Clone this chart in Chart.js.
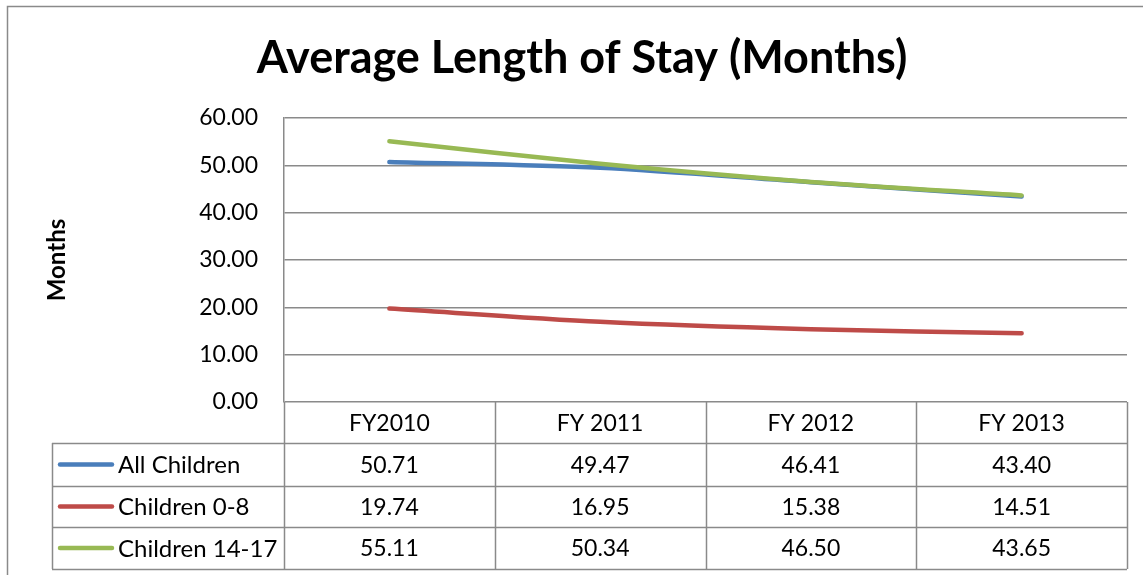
<!DOCTYPE html>
<html>
<head>
<meta charset="utf-8">
<script src="https://cdn.jsdelivr.net/npm/chart.js@4/dist/chart.umd.min.js"></script>
<style>
html,body{margin:0;padding:0;background:#fff;}
#wrap{width:1143px;height:575px;position:relative;}
</style>
</head>
<body>
<div id="wrap"><canvas id="c" width="1143" height="575"></canvas></div>
<script>
const categories = ["FY2010", "FY 2011", "FY 2012", "FY 2013"];
const allChildren = [50.71, 49.47, 46.41, 43.40];
const children0to8 = [19.74, 16.95, 15.38, 14.51];
const children14to17 = [55.11, 50.34, 46.50, 43.65];
const seriesNames = ["All Children", "Children 0-8", "Children 14-17"];
const yTickValues = [0, 10, 20, 30, 40, 50, 60];
const chartTitle = "Average Length of Stay (Months)";
const yAxisTitle = "Months";

const colors = ["#4A7EBB", "#BE4B48", "#98B954"];
const gridColor = "#8a8a8a";
const FONT = "Lato, 'Open Sans', sans-serif";

const tablePlugin = {
  id: 'tablePlugin',
  afterDraw(chart) {
    const ctx = chart.ctx;
    const area = chart.chartArea;
    const xs = chart.scales.x;
    const ds = chart.data.datasets;
    ctx.save();
    // outer frame
    ctx.strokeStyle = gridColor;
    ctx.lineWidth = 1.5;
    ctx.beginPath();
    ctx.moveTo(7.5, 575);
    ctx.lineTo(7.5, 6.5);
    ctx.lineTo(1143, 6.5);
    ctx.stroke();

    // title
    ctx.fillStyle = "#000";
    ctx.font = "bold 45px " + FONT;
    ctx.textAlign = "center";
    ctx.textBaseline = "middle";
    ctx.fillText(chartTitle, 582, 58);

    // y axis title
    ctx.save();
    ctx.translate(57, 260);
    ctx.rotate(-Math.PI / 2);
    ctx.font = "bold 24px " + FONT;
    ctx.fillText(yAxisTitle, 0, 0);
    ctx.restore();

    // table
    const catW = area.width / categories.length;
    const headerTop = area.bottom;
    const rowTops = [443, 486, 527];
    const tableBottom = 569;
    const legendLeft = 52;
    ctx.strokeStyle = gridColor;
    ctx.lineWidth = 1.5;
    ctx.beginPath();
    [443, 486, 527, tableBottom].forEach(y => {
      ctx.moveTo(legendLeft, y + 0.5);
      ctx.lineTo(area.right, y + 0.5);
    });
    ctx.moveTo(legendLeft + 0.5, 443);
    ctx.lineTo(legendLeft + 0.5, tableBottom);
    for (let i = 0; i <= categories.length; i++) {
      const x = Math.round(area.left + i * catW) + 0.5;
      ctx.moveTo(x, headerTop);
      ctx.lineTo(x, tableBottom);
    }
    ctx.stroke();

    ctx.font = "23px " + FONT;
    ctx.fillStyle = "#000";
    ctx.textAlign = "center";
    ctx.textBaseline = "middle";
    categories.forEach((c, i) => {
      ctx.fillText(c, xs.getPixelForValue(i), (headerTop + 443) / 2 + 1);
    });
    ds.forEach((d, r) => {
      const top = rowTops[r];
      const bottom = r < 2 ? rowTops[r + 1] : tableBottom;
      const cy = (top + bottom) / 2 + 1;
      ctx.font = "23px " + FONT;
      d.data.forEach((v, i) => {
        ctx.textAlign = "center";
        ctx.fillText(v.toFixed(2), xs.getPixelForValue(i), cy);
      });
      ctx.strokeStyle = d.borderColor;
      ctx.lineWidth = 4.5;
      ctx.lineCap = "round";
      ctx.beginPath();
      ctx.moveTo(60, cy - 1);
      ctx.lineTo(112, cy - 1);
      ctx.stroke();
      ctx.textAlign = "left";
      ctx.font = "24px " + FONT;
      ctx.fillText(d.label, 118, cy);
    });
    ctx.restore();
  }
};

new Chart(document.getElementById('c'), {
  type: 'line',
  data: {
    labels: categories,
    datasets: [
      { label: seriesNames[0], data: allChildren, borderColor: colors[0], order: 3 },
      { label: seriesNames[1], data: children0to8, borderColor: colors[1], order: 2 },
      { label: seriesNames[2], data: children14to17, borderColor: colors[2], order: 1 }
    ].map(d => Object.assign(d, {
      borderWidth: 4.5, pointRadius: 0, tension: 0.3, fill: false,
      borderCapStyle: 'round', borderJoinStyle: 'round', backgroundColor: d.borderColor
    }))
  },
  options: {
    responsive: false,
    animation: false,
    layout: { padding: { top: 118, right: 16, bottom: 173, left: 0 } },
    plugins: { legend: { display: false }, tooltip: { enabled: false }, title: { display: false } },
    scales: {
      x: { display: false, offset: true },
      y: {
        min: 0, max: 60,
        afterFit(scale) { scale.width = 284; },
        afterBuildTicks(scale) { scale.ticks = yTickValues.map(v => ({ value: v })); },
        border: { display: true, color: gridColor, width: 1.5 },
        grid: { color: gridColor, lineWidth: 1.5, drawTicks: false },
        ticks: {
          padding: 26, color: "#000",
          font: { family: FONT, size: 23 },
          callback: v => Number(v).toFixed(2)
        }
      }
    }
  },
  plugins: [tablePlugin]
});
</script>
</body>
</html>
